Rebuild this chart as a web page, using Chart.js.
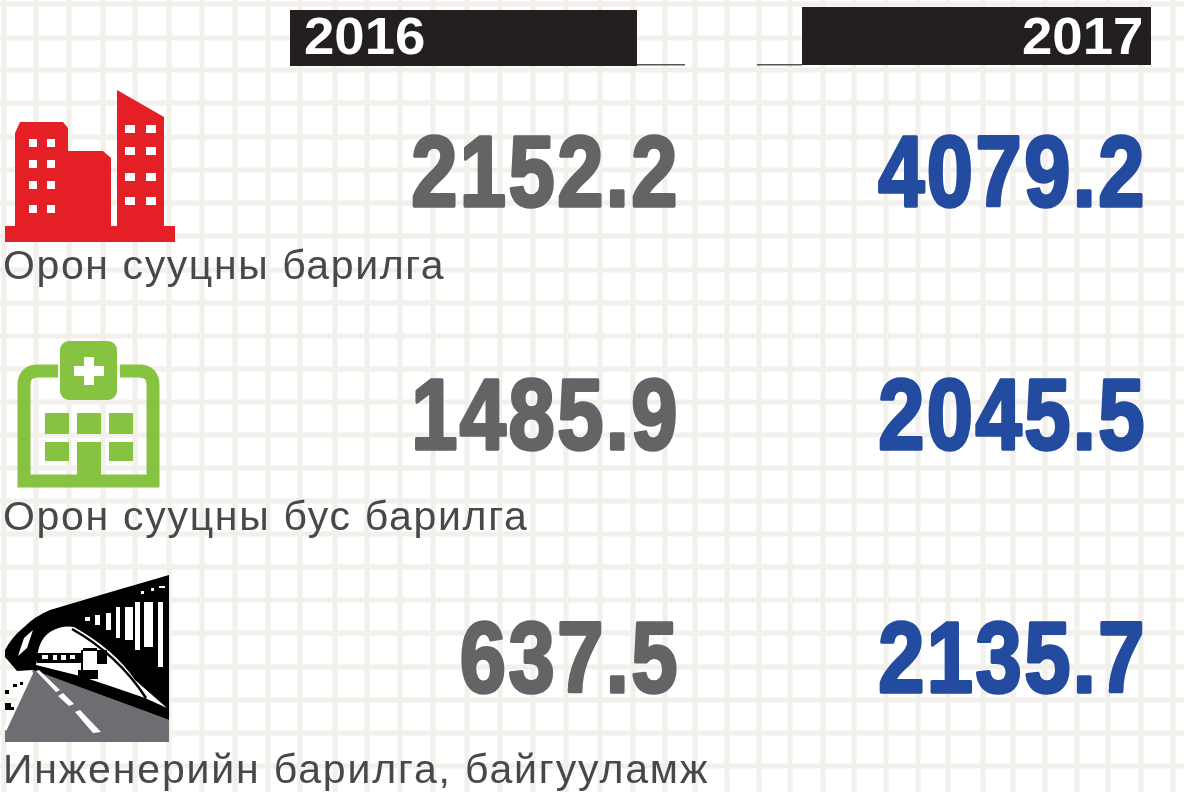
<!DOCTYPE html>
<html>
<head>
<meta charset="utf-8">
<title>Барилга</title>
<script src="https://cdn.jsdelivr.net/npm/chart.js@4"></script>
<style>
  html, body { margin: 0; padding: 0; background: #fff; overflow: hidden; }
  #wrap { width: 1184px; height: 792px; position: relative; }
  canvas { filter: blur(0.6px); }
</style>
</head>
<body>
<div id="wrap"><canvas id="chart" width="1184" height="792"></canvas></div>
<script>
const years = ["2016", "2017"];
const categories = ["Орон сууцны барилга", "Орон сууцны бус барилга", "Инженерийн барилга, байгууламж"];
const values2016 = [2152.2, 1485.9, 637.5];
const values2017 = [4079.2, 2045.5, 2135.7];

// background paper grid
const gridX = [4, 36, 69, 103, 135, 169, 202, 235, 268, 300, 335, 367, 400, 433, 467, 500, 533, 566, 600, 633, 665, 695, 727, 759, 790, 823, 854, 886, 918, 948, 983, 1013, 1045, 1077, 1108, 1141, 1173];
const gridY = [4, 38, 70, 103, 137, 170, 203, 236, 270, 303, 336, 369, 402, 435, 468, 501, 534, 567, 600, 633, 667, 700, 733, 766];

const GREY = "#636466";
const BLUE = "#234ba0";
const DARK = "#231f20";
const RED = "#e51f26";
const GREEN = "#85c340";

function poly(ctx, pts, color) {
  ctx.fillStyle = color;
  ctx.beginPath();
  pts.forEach((p, i) => i ? ctx.lineTo(p[0], p[1]) : ctx.moveTo(p[0], p[1]));
  ctx.closePath();
  ctx.fill();
}

function rects(ctx, list, color) {
  ctx.fillStyle = color;
  list.forEach(r => ctx.fillRect(r[0], r[1], r[2], r[3]));
}

function drawTowers(ctx) {
  ctx.fillStyle = RED;
  ctx.fillRect(5, 226, 170, 16);
  poly(ctx, [[15, 228], [15, 133], [20, 122], [63, 122], [68, 128], [68, 151], [103, 151], [111, 158], [111, 228]], RED);
  poly(ctx, [[117, 228], [117, 90], [164, 117], [164, 228]], RED);
  const wins = [];
  [139, 160, 181, 205].forEach(y => { wins.push([29, y, 8, 8]); wins.push([47, y, 8, 8]); });
  [125, 147, 173, 197].forEach(y => { wins.push([125, y, 10, 8]); wins.push([146, y, 10, 8]); });
  rects(ctx, wins, "#fff");
}

function drawClinic(ctx) {
  ctx.strokeStyle = GREEN;
  ctx.lineWidth = 13;
  ctx.beginPath();
  ctx.moveTo(58, 371);
  ctx.lineTo(38, 371);
  ctx.quadraticCurveTo(24, 371, 24, 385);
  ctx.lineTo(24, 481);
  ctx.lineTo(153, 481);
  ctx.lineTo(153, 385);
  ctx.quadraticCurveTo(153, 371, 139, 371);
  ctx.lineTo(120, 371);
  ctx.stroke();
  ctx.fillStyle = GREEN;
  ctx.beginPath();
  ctx.roundRect(60, 341, 57, 59, 9);
  ctx.fill();
  rects(ctx, [[74, 366, 30, 10], [84, 357, 10, 28]], "#fff");
  rects(ctx, [[45, 413, 24, 21], [77, 413, 24, 21], [109, 413, 24, 21], [45, 442, 24, 19], [77, 442, 24, 36], [109, 442, 24, 19]], GREEN);
}

function drawBridge(ctx) {
  // road
  poly(ctx, [[33, 670], [169, 720], [169, 742], [5, 742], [5, 730]], "#6d6e71");
  // arch body
  ctx.fillStyle = "#000";
  ctx.beginPath();
  ctx.moveTo(5, 650);
  ctx.quadraticCurveTo(12, 637, 23, 628);
  ctx.quadraticCurveTo(35, 616, 50, 610);
  ctx.quadraticCurveTo(110, 592, 169, 575);
  ctx.lineTo(169, 720);
  ctx.lineTo(33, 670);
  ctx.lineTo(17, 671);
  ctx.lineTo(5, 657);
  ctx.closePath();
  ctx.fill();
  // opening under the arch
  ctx.fillStyle = "#fff";
  ctx.beginPath();
  ctx.moveTo(37, 660);
  ctx.quadraticCurveTo(38, 640, 50, 632);
  ctx.quadraticCurveTo(62, 625, 74, 627);
  ctx.quadraticCurveTo(115, 650, 135, 680);
  ctx.lineTo(167, 708);
  ctx.lineTo(145, 698);
  ctx.lineTo(110, 686);
  ctx.lineTo(80, 676);
  ctx.lineTo(36, 665);
  ctx.closePath();
  ctx.fill();
  // second thin arc
  ctx.strokeStyle = "#000";
  ctx.lineWidth = 2.5;
  ctx.beginPath();
  ctx.moveTo(72, 629);
  ctx.quadraticCurveTo(118, 655, 146, 698);
  ctx.stroke();
  // buildings in the opening
  rects(ctx, [[37, 653, 44, 10], [83, 648, 14, 3], [81, 650, 2, 24], [97, 650, 10, 14], [78, 670, 20, 9]], "#000");
  rects(ctx, [[42, 655, 6, 4], [53, 655, 4, 5], [61, 655, 5, 5], [70, 655, 5, 4]], "#fff");
  rects(ctx, [[84, 651, 13, 19], [100, 664, 14, 4]], "#fff");
  // slits between the hangers
  rects(ctx, [[85, 617, 5, 4], [95, 615, 5, 10], [106, 613, 5, 17], [116, 607, 4, 31], [125, 607, 8, 33], [135, 602, 5, 48], [144, 602, 9, 45], [158, 602, 5, 65]], "#fff");
  rects(ctx, [[141, 591, 3, 3], [151, 588, 3, 3], [159, 586, 6, 2]], "#fff");
  poly(ctx, [[18, 656], [24, 638], [33, 630], [27, 648]], "#fff");
  // road markings and verge
  poly(ctx, [[36, 671], [39, 670], [60, 690], [56, 692]], "#fff");
  poly(ctx, [[58, 696], [63, 693], [74, 704], [69, 706]], "#fff");
  poly(ctx, [[75, 712], [80, 710], [101, 732], [93, 733]], "#fff");
  ctx.strokeStyle = "#fff";
  ctx.lineWidth = 3;
  ctx.beginPath();
  ctx.moveTo(32, 672);
  ctx.lineTo(5, 730);
  ctx.stroke();
  rects(ctx, [[5, 690, 4, 4], [13, 684, 4, 3], [20, 682, 3, 3], [5, 703, 6, 7], [11, 707, 3, 3]], "#000");
}

const paperGrid = {
  id: "paperGrid",
  beforeDraw(chart) {
    const ctx = chart.ctx;
    ctx.save();
    ctx.fillStyle = "#fff";
    ctx.fillRect(0, 0, chart.width, chart.height);
    ctx.fillStyle = "#f2f0eb";
    gridX.forEach(x => ctx.fillRect(x - 2.5, 0, 5, chart.height));
    gridY.forEach(y => ctx.fillRect(0, y - 2.5, chart.width, 5));
    ctx.restore();
  }
};

const infographic = {
  id: "infographic",
  afterDatasetsDraw(chart) {
    const ctx = chart.ctx;
    ctx.save();

    // year headers
    rects(ctx, [[290, 10, 347, 56], [802, 7, 349, 58]], DARK);
    ctx.fillStyle = "#55565a";
    ctx.fillRect(637, 64, 48, 1.5);
    ctx.fillRect(757, 64, 45, 1.5);
    ctx.fillStyle = "#fff";
    ctx.font = "bold 51px 'Liberation Sans'";
    ctx.textBaseline = "alphabetic";
    ctx.textAlign = "left";
    [[years[0], 304], [years[1], 1022]].forEach(h => {
      ctx.save();
      ctx.translate(h[1], 54);
      ctx.scale(1.07, 1);
      ctx.fillText(h[0], 0, 0);
      ctx.restore();
    });

    // icons
    drawTowers(ctx);
    drawClinic(ctx);
    drawBridge(ctx);

    // category labels
    const labelY = [279, 530, 783];
    const labelSpacing = ["1.6px", "1.7px", "1.85px"];
    ctx.font = "41px 'Liberation Sans'";
    ctx.textAlign = "left";
    ctx.fillStyle = "#48484a";
    categories.forEach((c, i) => {
      ctx.letterSpacing = labelSpacing[i];
      ctx.fillText(c, 3, labelY[i]);
    });
    ctx.letterSpacing = "0px";

    // big numbers, anchored on the chart's own points
    chart.data.datasets.forEach((ds, d) => {
      chart.getDatasetMeta(d).data.forEach((pt, i) => {
        ctx.save();
        ctx.translate(pt.x, pt.y + 38);
        ctx.scale(0.83, 1);
        ctx.font = "bold 100px 'Liberation Sans'";
        ctx.letterSpacing = "3px";
        ctx.textAlign = "right";
        ctx.fillStyle = ds.textColor;
        ctx.strokeStyle = ds.textColor;
        ctx.lineWidth = 3.5;
        ctx.lineJoin = "round";
        const label = ds.data[i].v.toFixed(1);
        ctx.strokeText(label, 0, 0);
        ctx.fillText(label, 0, 0);
        ctx.restore();
      });
    });
    ctx.restore();
  }
};

function series(year, values, color) {
  return {
    label: year,
    textColor: color,
    showLine: false,
    pointRadius: 0,
    data: categories.map((c, i) => ({ x: year, y: c, v: values[i] }))
  };
}

new Chart(document.getElementById("chart"), {
  type: "line",
  data: {
    datasets: [
      series(years[0], values2016, GREY),
      series(years[1], values2017, BLUE)
    ]
  },
  options: {
    responsive: false,
    animation: false,
    events: [],
    layout: { padding: { left: 680, right: 37, top: 46, bottom: 16 } },
    plugins: { legend: { display: false }, tooltip: { enabled: false } },
    scales: {
      x: { type: "category", labels: years, offset: false, display: false },
      y: { type: "category", labels: categories, offset: true, display: false }
    }
  },
  plugins: [paperGrid, infographic]
});
</script>
</body>
</html>
